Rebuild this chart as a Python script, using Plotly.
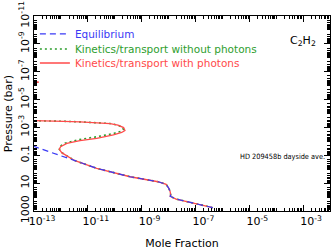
import plotly.graph_objects as go

# log10 values
eq_logx = [-6.36, -7.10, -7.72, -7.94, -7.92, -7.94, -7.99, -8.09, -8.39, -9.43, -10.67, -11.50, -11.92, -13.0, -13.4]
eq_logp = [2.76, 2.45, 2.14, 1.94, 1.85, 1.61, 1.37, 1.08, 0.90, 0.54, -0.065, -0.63, -0.90, -1.63, -1.90]

red_logx = [-6.36, -7.10, -7.72, -7.94, -7.92, -7.94, -7.99, -8.09, -8.39, -9.43, -10.67, -11.50,
            -11.78, -11.97, -12.06, -12.01, -11.78, -11.29, -10.67, -10.05, -9.74, -9.62, -9.67,
            -9.88, -10.17, -10.67, -11.29, -11.91, -12.53, -13.0, -13.5, -14.5, -14.5, -13.3,
            -12.82, -13.3, -14.5, -14.5]
red_logp = [2.76, 2.45, 2.14, 1.94, 1.85, 1.61, 1.37, 1.08, 0.90, 0.54, -0.065, -0.63,
            -0.95, -1.19, -1.43, -1.62, -1.86, -2.05, -2.22, -2.46, -2.64, -2.78, -2.99,
            -3.17, -3.28, -3.35, -3.40, -3.44, -3.46, -3.47, -3.50, -3.60, -6.00, -6.12,
            -6.25, -6.38, -6.50, -11.5]

grn_logx = [-6.36, -7.10, -7.72, -7.94, -7.92, -7.94, -7.99, -8.09, -8.39, -9.43, -10.67, -11.50,
            -11.78, -11.97, -12.06, -12.03, -11.85, -11.35, -10.67, -10.05, -9.77, -9.68, -9.72,
            -9.90, -10.17, -10.67, -11.29, -11.91, -12.53, -13.0, -13.5, -14.5, -14.5]
grn_logp = [2.76, 2.45, 2.14, 1.94, 1.85, 1.61, 1.37, 1.08, 0.90, 0.54, -0.065, -0.63,
            -0.95, -1.19, -1.43, -1.65, -1.87, -2.12, -2.33, -2.56, -2.72, -2.86, -3.02,
            -3.17, -3.28, -3.35, -3.40, -3.44, -3.46, -3.47, -3.50, -3.60, -11.5]

x_tick_exps = [-13, -11, -9, -7, -5, -3]
y_tick_labels = ["1000", "10", "0.1", "10<sup>-3</sup>", "10<sup>-5</sup>", "10<sup>-7</sup>",
                 "10<sup>-9</sup>", "10<sup>-11</sup>"]
y_tick_exps = [3, 1, -1, -3, -5, -7, -9, -11]

BLUE = "#3a3af5"
GREEN = "#2e9e2e"
RED = "#ff4a4a"
FONT = "DejaVu Sans"

def p10(v):
    return [10.0 ** a for a in v]

fig = go.Figure()
fig.add_trace(go.Scatter(x=p10(grn_logx), y=p10(grn_logp), mode="lines",
                         line=dict(color=GREEN, width=1.6, dash="2px,3px"),
                         name=f"<span style='color:{GREEN}'>Kinetics/transport without photons</span>",
                         legend="legend2"))
fig.add_trace(go.Scatter(x=p10(red_logx), y=p10(red_logp), mode="lines",
                         line=dict(color=RED, width=1.3),
                         name=f"<span style='color:{RED}'>Kinetics/transport with photons</span>",
                         legend="legend3"))
fig.add_trace(go.Scatter(x=p10(eq_logx), y=p10(eq_logp), mode="lines",
                         line=dict(color=BLUE, width=1.2, dash="6px,4px"),
                         name=f"<span style='color:{BLUE}'>Equilibrium</span>",
                         legend="legend"))

# minor ticks: every decade not labelled, plus 2..9 in each decade
x_minor = [k * 10.0 ** n for n in range(-13, -2) for k in range(2, 10)] + \
          [10.0 ** n for n in range(-13, -1) if n not in x_tick_exps]
y_minor = [k * 10.0 ** n for n in range(-11, 3) for k in range(2, 10)] + \
          [10.0 ** n for n in range(-11, 4) if n not in y_tick_exps]

fig.update_xaxes(type="log", range=[-13, -2], automargin=False,
                 tickmode="array",
                 tickvals=[10.0 ** n for n in x_tick_exps],
                 ticktext=[f"10<sup>{n}</sup>" for n in x_tick_exps],
                 ticklabelshift=8,
                 ticks="inside", ticklen=6, tickcolor="black", tickwidth=1,
                 minor=dict(ticks="inside", ticklen=3, tickvals=x_minor, tickcolor="black", tickwidth=1),
                 showline=True, linecolor="black", linewidth=1, mirror="allticks",
                 showgrid=False, zeroline=False,
                 tickfont=dict(family=FONT, size=11, color="black"),
                 title=dict(text="Mole Fraction", font=dict(family=FONT, size=11, color="black"), standoff=14))
fig.update_yaxes(type="log", range=[3, -11], automargin=False,
                 tickmode="array",
                 tickvals=[10.0 ** n for n in y_tick_exps],
                 ticktext=y_tick_labels,
                 tickangle=-90,
                 ticks="inside", ticklen=6, tickcolor="black", tickwidth=1,
                 minor=dict(ticks="inside", ticklen=3, tickvals=y_minor, tickcolor="black", tickwidth=1),
                 showline=True, linecolor="black", linewidth=1, mirror="allticks",
                 showgrid=False, zeroline=False,
                 tickfont=dict(family=FONT, size=11, color="black"),
                 title=dict(text="Pressure (bar)", font=dict(family=FONT, size=11, color="black"), standoff=2))

fig.add_annotation(text="C<sub>2</sub>H<sub>2</sub>", xref="paper", yref="paper",
                   x=0.959, y=0.872, xanchor="right", yanchor="middle", showarrow=False,
                   font=dict(family=FONT, size=11, color="black"))
fig.add_annotation(text="HD 209458b dayside ave.", xref="paper", yref="paper",
                   x=0.99, y=0.278, xanchor="right", yanchor="middle", showarrow=False,
                   font=dict(family="Liberation Sans Narrow, DejaVu Sans Condensed, Liberation Sans",
                             size=7.3, color="black"))

leg_common = dict(x=0.003, xanchor="left", yanchor="middle", bgcolor="rgba(0,0,0,0)",
                  borderwidth=0, font=dict(family=FONT, size=10.5), itemwidth=30)
fig.update_layout(width=332, height=250,
                  margin=dict(l=34, r=2, t=16, b=39),
                  paper_bgcolor="white", plot_bgcolor="white",
                  showlegend=True,
                  legend=dict(y=0.908, **leg_common),
                  legend2=dict(y=0.831, **leg_common),
                  legend3=dict(y=0.759, **leg_common))

fig.write_html("out.html", config={"displayModeBar": False},
               post_script="document.body.style.margin='0px';")
